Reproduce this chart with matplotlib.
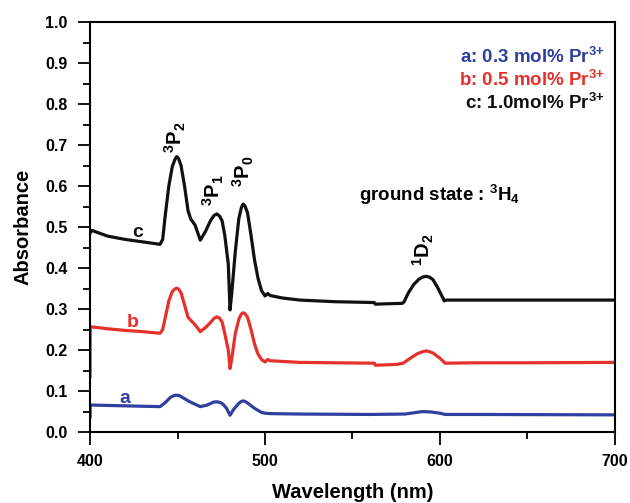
import matplotlib
matplotlib.use("Agg")
import matplotlib.pyplot as plt
from matplotlib.ticker import MultipleLocator

plt.rcParams['font.family'] = ['Liberation Sans', 'DejaVu Sans']
plt.rcParams['mathtext.fontset'] = 'custom'
plt.rcParams['mathtext.rm'] = 'Liberation Sans:bold'
plt.rcParams['mathtext.it'] = 'Liberation Sans:bold'
plt.rcParams['mathtext.bf'] = 'Liberation Sans:bold'

# ---- data ----
wl_c = [400, 401, 410, 420, 430, 440, 441.5, 443, 445, 447, 448.5, 449.5, 450.5, 452, 454, 456,
        457.5, 460, 463, 466, 469, 471, 472.5, 474, 475.5, 477, 479, 480, 481, 483, 485, 486.5,
        487.5, 488.5, 490, 492, 494, 496, 498, 500, 501.5, 503, 510, 520, 540, 562.5, 563,
        570, 578.5, 579.5, 582, 585, 588, 590, 592, 594, 596, 599, 602.5, 603.5, 620, 650, 700]
abs_c = [0.485, 0.492, 0.478, 0.470, 0.464, 0.458, 0.47, 0.53, 0.60, 0.648, 0.665, 0.672,
         0.668, 0.65, 0.60, 0.54, 0.52, 0.505, 0.468, 0.49, 0.517, 0.529, 0.532, 0.527, 0.515,
         0.48, 0.41, 0.298, 0.34, 0.44, 0.52, 0.548, 0.556, 0.552, 0.535, 0.48, 0.42, 0.375,
         0.345, 0.332, 0.338, 0.333, 0.327, 0.322, 0.318, 0.316, 0.312, 0.313, 0.314, 0.318,
         0.34, 0.36, 0.373, 0.378, 0.380, 0.378, 0.372, 0.35, 0.32, 0.322, 0.322, 0.322, 0.322]

wl_b = [400, 400.1, 410, 420, 430, 440, 441.5, 443, 445, 447, 448.5, 449.5, 450.5, 452, 454, 456,
        457.5, 460, 463, 466, 469, 471, 472.5, 474, 475.5, 477, 479, 480, 481, 483, 485, 486.5,
        487.5, 488.5, 490, 492, 494, 496, 498, 500, 501.5, 503, 520, 540, 562.5, 563, 575, 579,
        583, 587, 590, 592, 594, 596, 600, 603, 620, 650, 700]
abs_b = [0.135, 0.257, 0.252, 0.248, 0.245, 0.241, 0.25, 0.28, 0.32, 0.343, 0.349, 0.351,
         0.349, 0.34, 0.31, 0.28, 0.273, 0.262, 0.245, 0.255, 0.268, 0.278, 0.281, 0.278,
         0.268, 0.24, 0.2, 0.155, 0.18, 0.24, 0.275, 0.288, 0.291, 0.289, 0.28, 0.25, 0.215,
         0.19, 0.177, 0.171, 0.177, 0.174, 0.170, 0.169, 0.168, 0.163, 0.165, 0.168, 0.18,
         0.191, 0.196, 0.198, 0.196, 0.193, 0.18, 0.168, 0.169, 0.169, 0.170]

wl_a = [400, 400.1, 410, 420, 430, 440, 443, 446, 448, 449.5, 451, 453, 457, 460, 463, 467,
        470.5, 472.5, 474.5, 476, 478, 480, 482, 485, 486.5, 487.5, 488.5, 490, 494, 498, 500,
        503, 520, 560, 580, 585, 590, 595, 600, 603, 620, 700]
abs_a = [0.037, 0.066, 0.065, 0.064, 0.063, 0.062, 0.072, 0.085, 0.089, 0.090, 0.089, 0.084,
         0.074, 0.068, 0.062, 0.066, 0.073, 0.074, 0.072, 0.068, 0.058, 0.041, 0.055, 0.07,
         0.075, 0.076, 0.075, 0.071, 0.058, 0.048, 0.046, 0.045, 0.044, 0.043, 0.044, 0.047,
         0.05, 0.049, 0.046, 0.043, 0.043, 0.042]

legend_labels = [r'a: 0.3 mol% Pr$^{3{+}}$', r'b: 0.5 mol% Pr$^{3{+}}$', r'c: 1.0mol% Pr$^{3{+}}$']
colors = ['#2f40a0', '#e4312b', '#111111']

fig = plt.figure(figsize=(6.3, 5.03), dpi=100)
ax = fig.add_axes([0.143, 0.141, 0.833, 0.815])

lw = 2.3
ax.plot(wl_a, abs_a, color=colors[0], lw=lw, solid_joinstyle='round')
ax.plot(wl_b, abs_b, color=colors[1], lw=lw, solid_joinstyle='round')
ax.plot(wl_c, abs_c, color=colors[2], lw=lw, solid_joinstyle='round')

ax.set_xlim(400, 700)
ax.set_ylim(0.0, 1.0)
ax.xaxis.set_major_locator(MultipleLocator(100))
ax.xaxis.set_minor_locator(MultipleLocator(50))
ax.yaxis.set_major_locator(MultipleLocator(0.1))
ax.yaxis.set_minor_locator(MultipleLocator(0.05))
ax.yaxis.set_major_formatter(plt.FuncFormatter(lambda v, p: f'{v:.1f}'))
ax.tick_params(which='major', direction='out', length=9, width=1.3, labelsize=11.5, pad=7)
ax.tick_params(which='minor', direction='out', length=5, width=1.3)
for lab in ax.get_xticklabels() + ax.get_yticklabels():
    lab.set_fontweight('bold')
for s in ax.spines.values():
    s.set_linewidth(1.5)

ax.set_xlabel('Wavelength (nm)', fontsize=14.5, fontweight='bold', labelpad=10)
ax.set_ylabel('Absorbance', fontsize=14.5, fontweight='bold', labelpad=9)

# curve labels
ax.text(427, 0.486, 'c', color=colors[2], fontsize=14, fontweight='bold', ha='center', va='center')
ax.text(424.5, 0.268, 'b', color=colors[1], fontsize=14, fontweight='bold', ha='center', va='center')
ax.text(420, 0.083, 'a', color=colors[0], fontsize=14, fontweight='bold', ha='center', va='center')

# transition labels
for x, y, t in [(449, 0.72, r'$^{3}$P$_{2}$'), (470.5, 0.59, r'$^{3}$P$_{1}$'),
                (487.5, 0.635, r'$^{3}$P$_{0}$'), (590.5, 0.445, r'$^{1}$D$_{2}$')]:
    ax.text(x, y, t, rotation=90, fontsize=14.5, fontweight='bold', ha='center', va='center')

ax.text(600, 0.578, r'ground state : $^{3}$H$_{4}$', fontsize=13.5, fontweight='bold',
        ha='center', va='center')

for i, (t, c) in enumerate(zip(legend_labels, colors)):
    ax.text(694, 0.915 - 0.056 * i, t, color=c, fontsize=13.5, fontweight='bold',
            ha='right', va='center')

fig.savefig('out.png', dpi=100)
